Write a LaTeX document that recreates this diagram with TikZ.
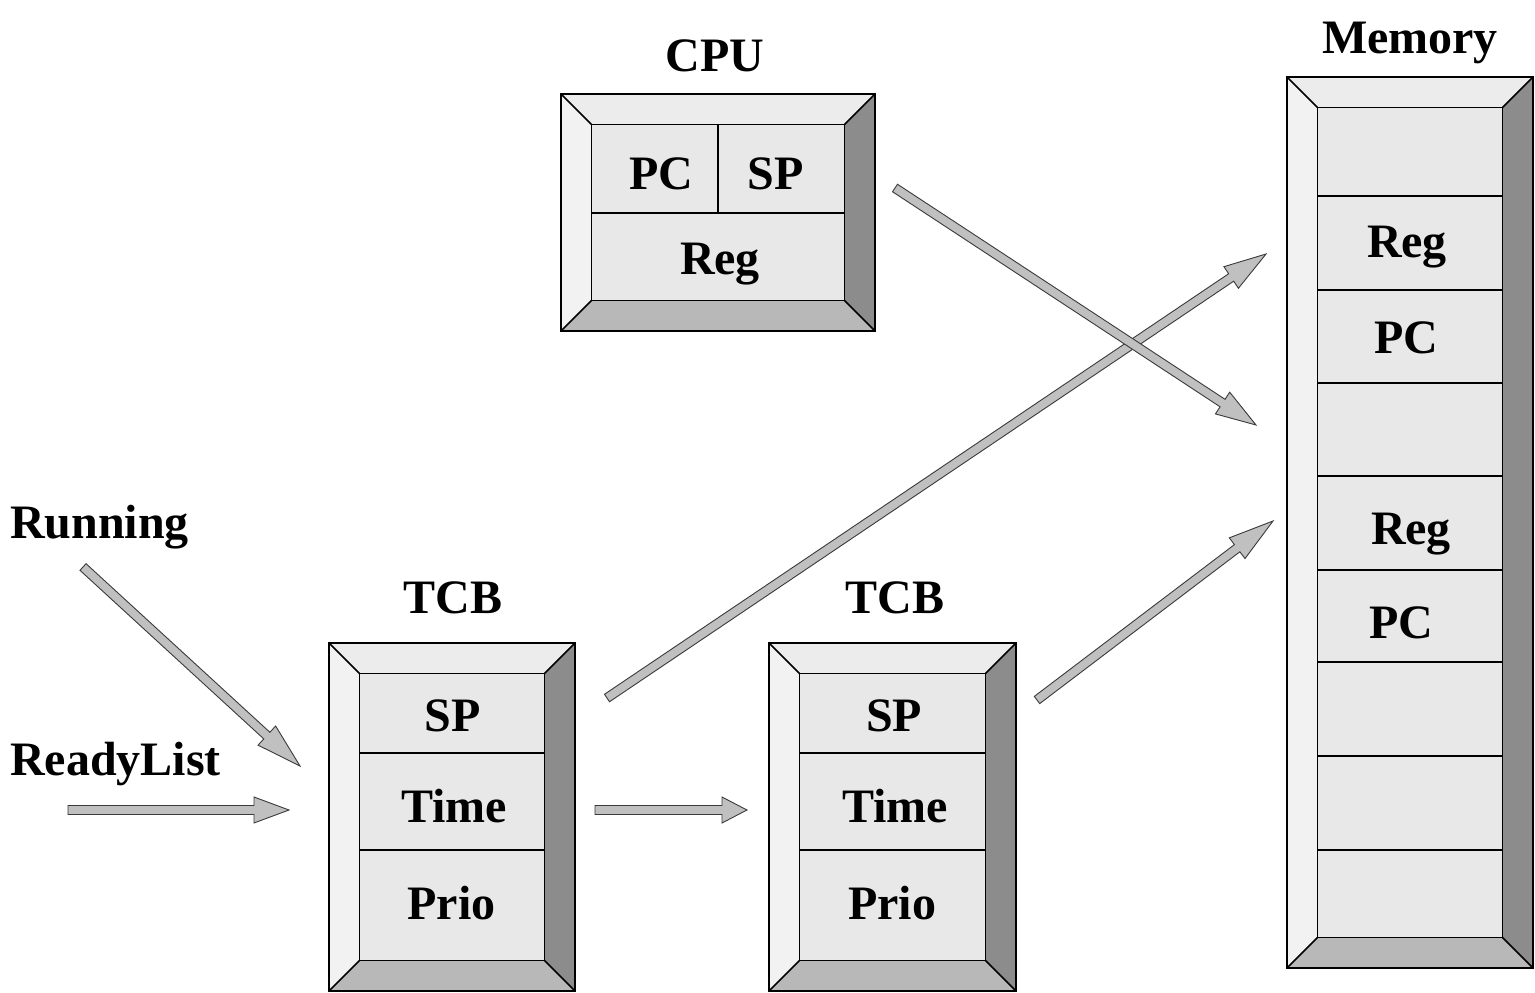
\documentclass[tikz,border=0pt]{standalone}
\usepackage{fontspec}
\setmainfont{Liberation Serif}
\usetikzlibrary{calc}
\definecolor{bvtop}{HTML}{ECECEC}
\definecolor{bvleft}{HTML}{F2F2F2}
\definecolor{bvright}{HTML}{8C8C8C}
\definecolor{bvbot}{HTML}{B8B8B8}
\definecolor{cellfill}{HTML}{E8E8E8}
\definecolor{arrfill}{HTML}{C0C0C0}
\definecolor{arrline}{HTML}{3A3A3A}
\tikzset{
  lbl/.style={font=\fontsize{48}{56}\selectfont\bfseries, anchor=base, inner sep=0pt},
  edgeline/.style={line width=1.5pt, draw=black},
  barrow/.style={fill=arrfill, draw=arrline, line width=0.9pt, line join=miter},
}
% bevel box: #1 name, #2 x1, #3 y1, #4 x2, #5 y2 (y measured downward)
\newcommand{\bevelbox}[5]{%
  \coordinate (#1-nw) at (#2,#3);
  \coordinate (#1-se) at (#4,#5);
  \coordinate (#1-inw) at (#2+30.5,#3+30.5);
  \coordinate (#1-ise) at (#4-30.5,#5-30.5);
  \fill[bvtop] (#2,#3) -- (#4,#3) -- (#4-30.5,#3+30.5) -- (#2+30.5,#3+30.5) -- cycle;
  \fill[bvleft] (#2,#3) -- (#2+30.5,#3+30.5) -- (#2+30.5,#5-30.5) -- (#2,#5) -- cycle;
  \fill[bvright] (#4,#3) -- (#4-30.5,#3+30.5) -- (#4-30.5,#5-30.5) -- (#4,#5) -- cycle;
  \fill[bvbot] (#2,#5) -- (#2+30.5,#5-30.5) -- (#4-30.5,#5-30.5) -- (#4,#5) -- cycle;
  \fill[cellfill] (#1-inw) rectangle (#1-ise);
  \draw[edgeline] (#1-nw) rectangle (#1-se);
  \draw[edgeline] (#1-inw) rectangle (#1-ise);
  \draw[edgeline] (#2,#3) -- (#2+30.5,#3+30.5);
  \draw[edgeline] (#4,#3) -- (#4-30.5,#3+30.5);
  \draw[edgeline] (#2,#5) -- (#2+30.5,#5-30.5);
  \draw[edgeline] (#4,#5) -- (#4-30.5,#5-30.5);
}
% block arrow: #1 head length, #2 from, #3 to
\newcommand{\blockarrow}[3]{%
  \coordinate (ba-h) at ($(#3)!#1pt!(#2)$);
  \draw[barrow] ($(#2)!4.5pt!90:(#3)$) -- ($(ba-h)!4.5pt!90:(#3)$) -- ($(ba-h)!13pt!90:(#3)$) -- (#3)
    -- ($(ba-h)!13pt!-90:(#3)$) -- ($(ba-h)!4.5pt!-90:(#3)$) -- ($(#2)!4.5pt!-90:(#3)$) -- cycle;
}
\begin{document}
\begin{tikzpicture}[x=1pt,y=-1pt]
\useasboundingbox (0,0) rectangle (1535,993);
\fill[white] (0,0) rectangle (1535,993);

% CPU
\bevelbox{cpu}{561}{94}{875}{331}
\draw[edgeline] (591.5,213) -- (844.5,213);
\draw[edgeline] (718,124.5) -- (718,213);
\node[lbl] (cputitle) at (715,71) {CPU};
\node[lbl] (cpupc) at (661,189) {PC};
\node[lbl] (cpusp) at (776,189) {SP};
\node[lbl] (cpureg) at (720,274) {Reg};

% Memory
\bevelbox{mem}{1287}{77}{1533}{968}
\foreach \yy in {196,290,383,476,570,662,756,850}
  \draw[edgeline] (1317.5,\yy) -- (1502.5,\yy);
\node[lbl] (memtitle) at (1410,53) {Memory};
\node[lbl] (memreg1) at (1407,257) {Reg};
\node[lbl] (mempc1) at (1406,353) {PC};
\node[lbl] (memreg2) at (1411,544) {Reg};
\node[lbl] (mempc2) at (1401,638) {PC};

% TCB 1
\bevelbox{tcba}{329}{643}{575}{991}
\draw[edgeline] (359.5,753) -- (544.5,753);
\draw[edgeline] (359.5,850) -- (544.5,850);
\node[lbl] (tcbatitle) at (453,613) {TCB};
\node[lbl] (tcbasp) at (453,731) {SP};
\node[lbl] (tcbatime) at (454,822) {Time};
\node[lbl] (tcbaprio) at (451.5,919) {Prio};

% TCB 2
\bevelbox{tcbb}{769}{643}{1016}{991}
\draw[edgeline] (799.5,753) -- (985.5,753);
\draw[edgeline] (799.5,850) -- (985.5,850);
\node[lbl] (tcbbtitle) at (895,613) {TCB};
\node[lbl] (tcbbsp) at (894,731) {SP};
\node[lbl] (tcbbtime) at (895,822) {Time};
\node[lbl] (tcbbprio) at (892,919) {Prio};

% side labels
\node[lbl, anchor=base west] (running) at (10,538) {Running};
\node[lbl, anchor=base west] (readylist) at (10,775) {ReadyList};

% arrow end points
\coordinate (runS) at (83,567);
\coordinate (runE) at (300,766);
\coordinate (rdyS) at (68,810);
\coordinate (rdyE) at (289,810);
\coordinate (abS) at (595,810);
\coordinate (abE) at (747,810);
\coordinate (amS) at (607,698);
\coordinate (amE) at (1266,254);
\coordinate (cmS) at (895,188);
\coordinate (cmE) at (1256,425);
\coordinate (bmS) at (1037,700);
\coordinate (bmE) at (1273,521);

\blockarrow{45}{runS}{runE}
\blockarrow{35}{rdyS}{rdyE}
\blockarrow{25}{abS}{abE}
\blockarrow{42}{amS}{amE}
\blockarrow{40}{cmS}{cmE}
\blockarrow{45}{bmS}{bmE}
\end{tikzpicture}
\end{document}
